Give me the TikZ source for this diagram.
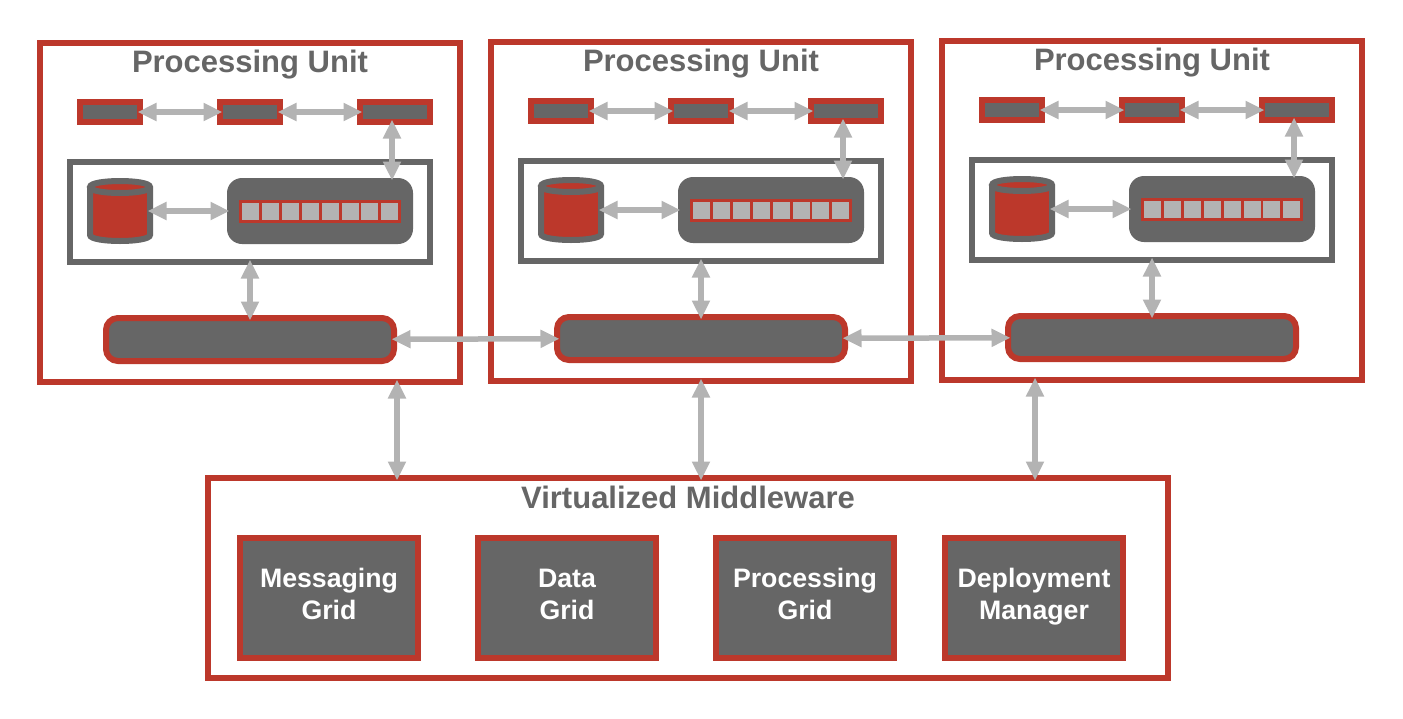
\documentclass[tikz,border=0pt]{standalone}
\usepackage{fontspec}
\setmainfont{Liberation Sans}
\usetikzlibrary{arrows.meta}
\definecolor{unitred}{HTML}{BC382B}
\definecolor{unitgray}{HTML}{666666}
\definecolor{linkgray}{HTML}{B3B3B3}

\begin{document}
\begin{tikzpicture}[x=1pt, y=-1pt, every node/.style={inner sep=0pt, line width=6pt},
    unitbox/.style={draw=unitred, minimum width=420pt, minimum height=339pt},
    title/.style={font=\bfseries\fontsize{31}{31}\selectfont, text=unitgray, anchor=base},
    minibox/.style={draw=unitred, fill=unitgray, minimum height=20pt},
    spacebox/.style={draw=unitgray, fill=white, minimum width=360pt, minimum height=100pt},
    store/.style={minimum width=60pt, minimum height=60pt},
    storeline/.style={draw=unitgray, fill=unitred, line width=6pt},
    engine/.style={fill=unitgray, rounded corners=15pt, minimum width=186pt, minimum height=66pt},
    queue/.style={fill=unitred, minimum width=162pt, minimum height=23pt},
    cell/.style={fill=linkgray, minimum width=17pt, minimum height=17pt},
    pill/.style={draw=unitred, fill=unitgray, rounded corners=12pt, minimum width=288pt, minimum height=43pt},
    gridbox/.style={draw=unitred, fill=unitgray, minimum width=178pt, minimum height=120pt, align=center, text=white, font=\bfseries\fontsize{26.7}{32}\selectfont, execute at end node={\rule[-7.6pt]{0pt}{1pt}}},
    link/.style={{Triangle[length=19pt,width=17pt]}-{Triangle[length=19pt,width=17pt]}, draw=linkgray, line width=5.5pt, shorten <=-5.5pt, shorten >=-5.5pt}]

\useasboundingbox (0,0) rectangle (1403,718);

\foreach \u/\dx/\dy in {1/0/0,2/451/-1,3/902/-2} {
\begin{scope}[shift={(\dx,\dy)}]
    \node[unitbox] (unit\u) at (250,212.5) {};
    \node[title] (title\u) at (250,72) {Processing Unit};
    \node[minibox, minimum width=60pt] (topa\u) at (110,112) {};
    \node[minibox, minimum width=60pt] (topb\u) at (250,112) {};
    \node[minibox, minimum width=70pt] (topc\u) at (395,112) {};
    \node[spacebox] (space\u) at (250,212) {};
    \node[store] (store\u) at (120,211) {};
    \draw[storeline] (90,187) -- (90,235) .. controls (90,243) and (150,243) .. (150,235) -- (150,187) .. controls (150,179) and (90,179) .. (90,187) .. controls (90,195) and (150,195) .. (150,187);
    \node[engine] (engine\u) at (320,211) {};
    \node[queue] (queue\u) at (320,211.5) {};
    \foreach \i in {1,...,8} {
        \node[cell] (cell\u\i) at (230.6+19.9*\i,211.5) {};
    }
    \node[pill] (pill\u) at (250,339.5) {};
    \draw[link] (topa\u) -- (topb\u);
    \draw[link] (topb\u) -- (topc\u);
    \draw[link] ([xshift=-3pt]topc\u.south) -- ([xshift=-3pt]topc\u.south |- engine\u.north);
    \draw[link] (store\u) -- (engine\u);
    \draw[link] (space\u) -- (pill\u);
\end{scope}
}

\node[draw=unitred, minimum width=960pt, minimum height=200pt] (middleware) at (688,578) {};
\node[title] (mwtitle) at (688,508) {Virtualized Middleware};
\node[gridbox] (messaging) at (329,598) {Messaging\\Grid};
\node[gridbox] (data) at (567,598) {Data\\Grid};
\node[gridbox] (processing) at (805,598) {Processing\\Grid};
\node[gridbox] (deployment) at (1034,598) {Deployment\\Manager};

\draw[link] (pill1) -- (pill2);
\draw[link] (pill2) -- (pill3);
\draw[link] (unit1.south -| pill1.east) -- (pill1.east |- middleware.north);
\draw[link] (unit2.south) -- (unit2.south |- middleware.north);
\draw[link] ([xshift=1pt]unit3.south -| deployment.north) -- ([xshift=1pt]deployment.north |- middleware.north);
\end{tikzpicture}
\end{document}
